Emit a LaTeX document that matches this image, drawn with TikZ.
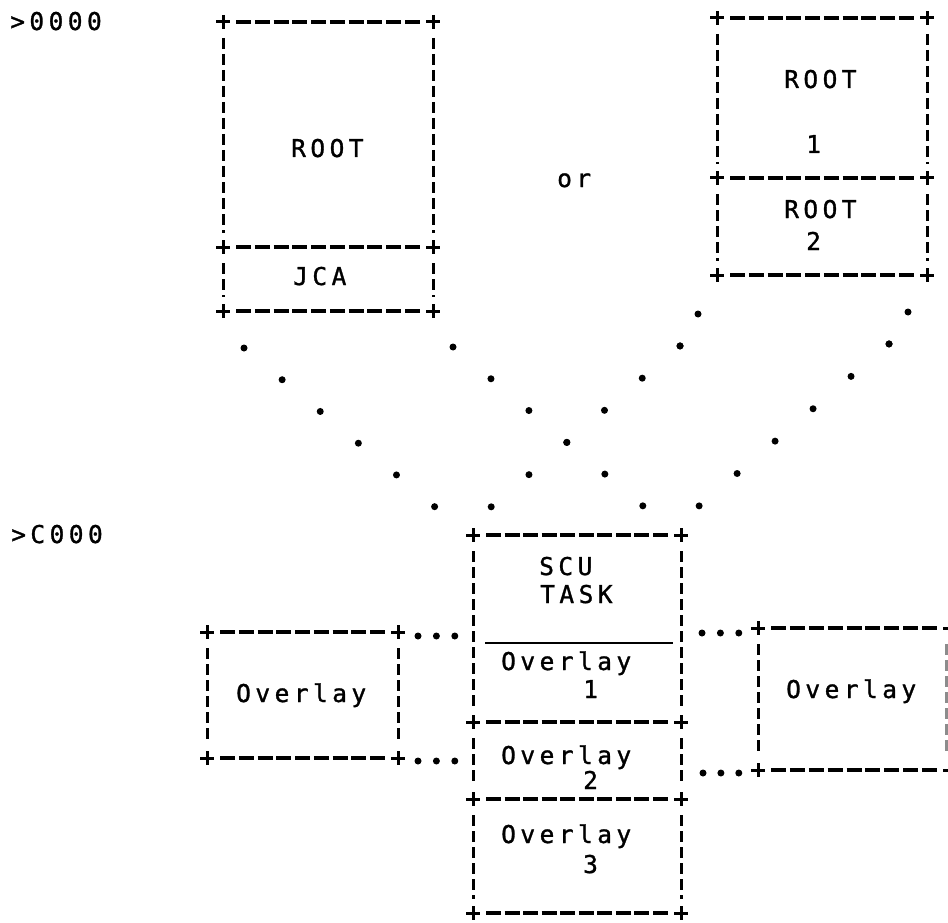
\documentclass[tikz,border=0pt]{standalone}
\usepackage{fontspec}
\setmonofont{DejaVu Sans Mono}[LetterSpace=18.2,FakeBold=1.2]
\usetikzlibrary{positioning}
\tikzset{
  lbl/.style={font=\ttfamily\fontsize{24.5}{29}\selectfont,inner sep=0pt,anchor=base west},
  crn/.pic={\draw[line width=3pt] (-7,0) -- (7,0) (0,-7) -- (0,7);},
  dotrow/.style={line width=7pt,line cap=round,dash pattern=on 0pt off #1pt},
}
\newcommand\hdsh[3]{%
  \pgfmathsetmacro\nd{round((#2-#1)/19.2)-1}%
  \pgfmathsetmacro\gp{(#2-#1-26-\nd*15)/(\nd-1)}%
  \draw[line width=3.2pt,dash pattern=on 15pt off \gp pt] (#1+13,#3) -- (#2-13,#3);
  \pic at (#1,#3) {crn}; \pic at (#2,#3) {crn};}
\newcommand\vdsh[3]{\draw[line width=3pt,dash pattern=on 11pt off 5pt] (#1,#2+16) -- (#1,#3-14);}

\begin{document}
\begin{tikzpicture}[x=1pt,y=-1pt]
\useasboundingbox (0,0) rectangle (948,923);

\node[lbl] (adr0) at (10,30) {>0000};
\node[lbl] (adrc) at (11,543) {>C000};

\hdsh{223}{433}{22} \hdsh{223}{433}{247} \hdsh{223}{433}{311}
\vdsh{223}{22}{247} \vdsh{433}{22}{247} \vdsh{223}{247}{311} \vdsh{433}{247}{311}
\node[lbl] (rootA) at (291,157) {ROOT};
\node[lbl] (jca) at (293,285) {JCA};

\node[lbl] (or) at (557,187) {or};

\hdsh{717}{927}{18} \hdsh{717}{927}{178} \hdsh{717}{927}{275}
\vdsh{717}{18}{178} \vdsh{927}{18}{178} \vdsh{717}{178}{275} \vdsh{927}{178}{275}
\node[lbl] (rootB) at (784,88) {ROOT};
\node[lbl] (one) at (806,153) {1};
\node[lbl] (rootC) at (784,218) {ROOT};
\node[lbl] (two) at (806,250) {2};

\hdsh{473}{681}{535} \hdsh{473}{681}{722} \hdsh{473}{681}{799} \hdsh{473}{681}{913}
\vdsh{473}{535}{722} \vdsh{681}{535}{722} \vdsh{473}{722}{799} \vdsh{681}{722}{799}
\vdsh{473}{799}{913} \vdsh{681}{799}{913}
\draw[line width=2.4pt] (485,643) -- (673,643);
\node[lbl] (scu) at (539,575) {SCU};
\node[lbl] (task) at (540,603) {TASK};
\node[lbl] (ov1) at (501,670) {Overlay};
\node[lbl] (n1) at (583,698) {1};
\node[lbl] (ov2) at (501,764) {Overlay};
\node[lbl] (n2) at (583,789) {2};
\node[lbl] (ov3) at (501,843) {Overlay};
\node[lbl] (n3) at (583,873) {3};

\hdsh{207}{398}{632} \hdsh{207}{398}{758}
\vdsh{207}{632}{758} \vdsh{398}{632}{758}
\node[lbl] (ovL) at (236,702) {Overlay};

\hdsh{758}{950}{628} \hdsh{758}{950}{770}
\vdsh{758}{628}{770}
\begin{scope}[black!45]\vdsh{946}{628}{770}\end{scope}
\node[lbl] (ovR) at (786,698) {Overlay};

\coordinate (lo1) at (244,348); \coordinate (lo2) at (435,507);
\coordinate (li1) at (453,347); \coordinate (li2) at (643,506);
\coordinate (ri0) at (698,314); \coordinate (ri1) at (680,346); \coordinate (ri2) at (491,507);
\coordinate (ro0) at (908,312); \coordinate (ro1) at (889,344); \coordinate (ro2) at (699,506);
\draw[dotrow=49.6] (lo1) -- (lo2);
\draw[dotrow=49.5] (li1) -- (li2);
\draw[dotrow=36.6] (ri0) -- (ri1);
\draw[dotrow=49.6] (ri1) -- (ri2);
\draw[dotrow=37.1] (ro0) -- (ro1);
\draw[dotrow=49.9] (ro1) -- (ro2);

\coordinate (dl1) at (418,636); \coordinate (dl2) at (455,636);
\coordinate (dl3) at (418,761); \coordinate (dl4) at (455,761);
\coordinate (dr1) at (702,633); \coordinate (dr2) at (739,633);
\coordinate (dr3) at (703,773); \coordinate (dr4) at (739,773);
\draw[dotrow=18.4] (dl1) -- (dl2);
\draw[dotrow=18.4] (dl3) -- (dl4);
\draw[dotrow=18.4] (dr1) -- (dr2);
\draw[dotrow=17.9] (dr3) -- (dr4);
\end{tikzpicture}
\end{document}
